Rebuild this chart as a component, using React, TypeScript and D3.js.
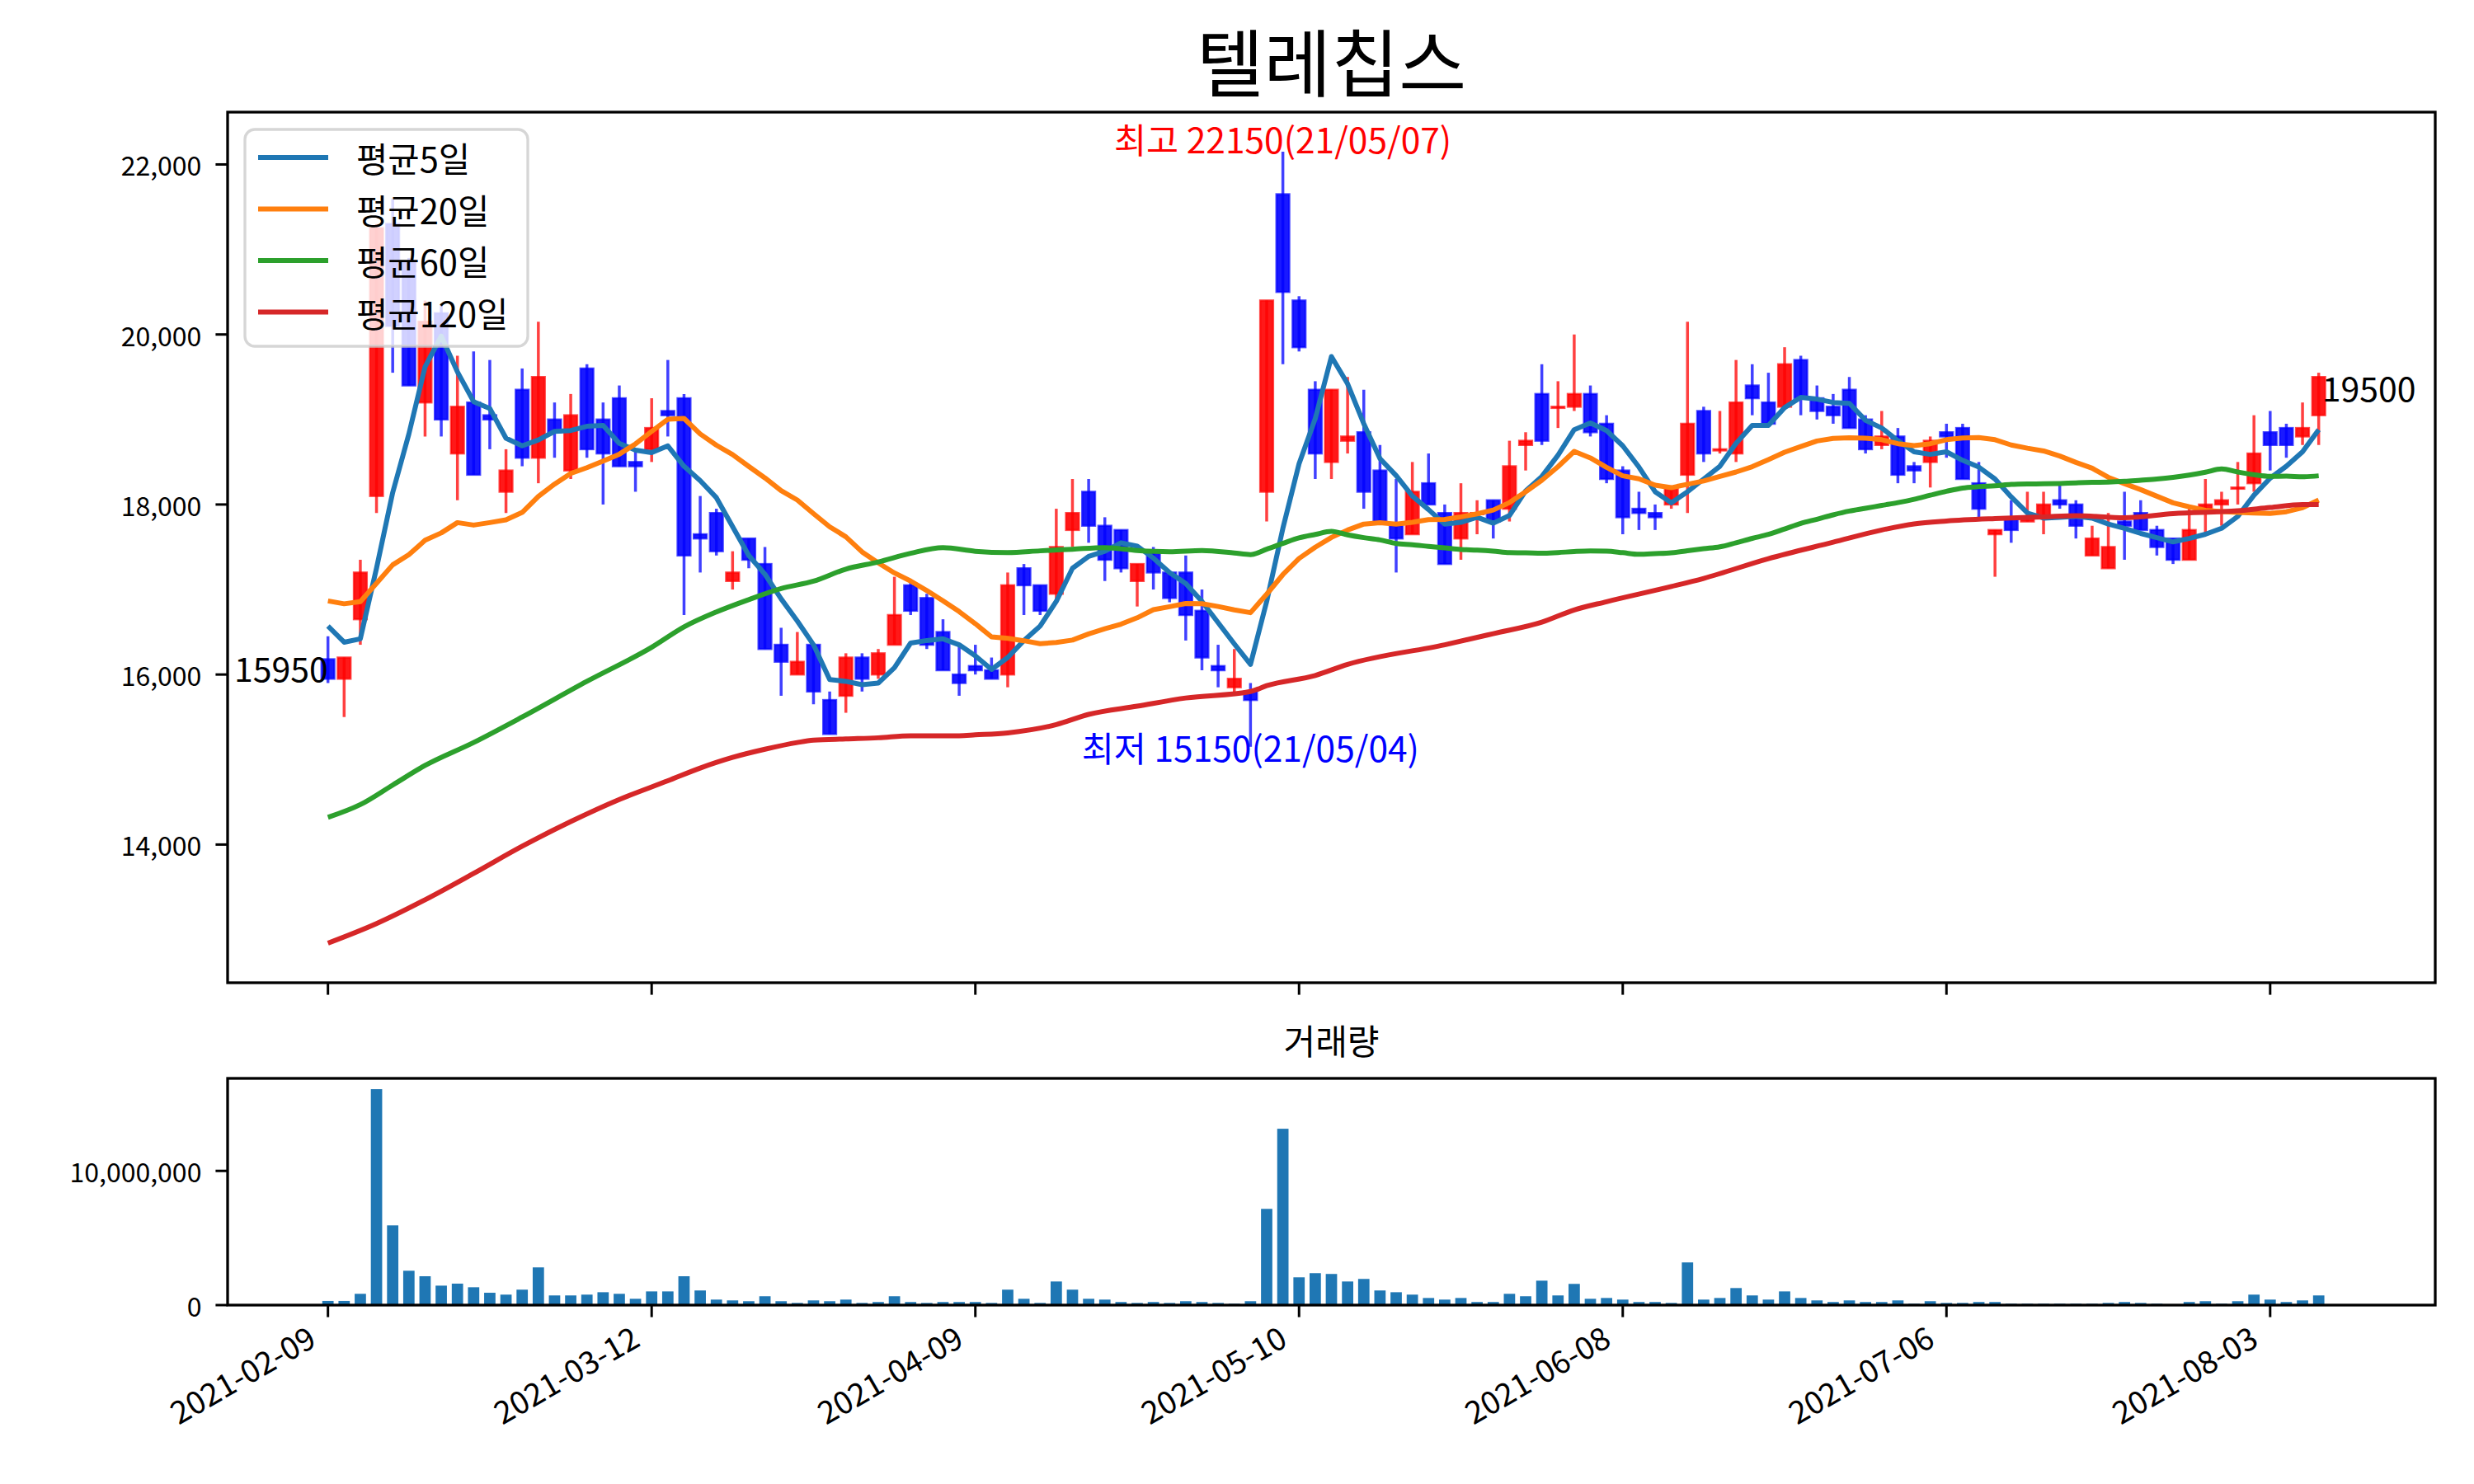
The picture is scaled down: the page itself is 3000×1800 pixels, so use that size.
import React from 'react';
import * as d3 from 'd3';

const opens = [16180,15950,16650,18100,21300,20850,19200,20250,18600,19200,19050,18150,19350,18550,19000,18400,19600,19000,19250,18500,18650,19100,19250,17650,17900,17100,17600,17300,16350,16000,16350,15700,15750,16200,16000,16350,17050,16900,16500,16000,16100,16050,16000,17250,17050,16950,17700,18150,17750,17700,17100,17450,17200,17200,16750,16100,15850,15800,18150,21650,20400,19350,18500,18750,18850,18400,17750,17650,18250,17900,17600,17900,18050,17950,18700,19300,19150,19150,19300,18950,18400,17950,17900,18000,18350,19100,18650,18600,19400,19200,19150,19700,19250,19150,19350,19000,18700,18800,18450,18500,18850,18900,18250,17650,17850,17800,17850,18050,18000,17400,17250,17800,17900,17700,17600,17350,17950,18000,18200,18250,18850,18900,18800,19050];
const highs = [16450,16200,17350,21300,21600,20900,20400,20350,19750,19800,19700,18650,19600,20150,19200,19300,19650,19200,19400,18650,19250,19700,19300,18100,17950,17450,17600,17500,16550,16500,16350,15800,16250,16250,16300,17150,17100,16950,16650,16350,16350,16200,17200,17300,17050,17950,18300,18300,17850,17700,17300,17500,17200,17400,17000,16350,16300,15900,20400,22150,20450,19450,19350,19500,19350,18700,18300,18500,18600,18000,18250,18050,18050,18750,18850,19650,19450,20000,19400,19050,18450,18150,18000,18200,20150,19150,19100,19700,19650,19550,19850,19750,19400,19300,19500,19050,19100,18900,18500,18800,18950,18950,18500,17700,18050,18150,18150,18250,18050,17750,17900,18150,18050,17750,17600,17950,18300,18150,18500,19050,19100,18950,19200,19550];
const lows = [15900,15500,16350,17900,19550,19400,18800,18800,18050,18350,18650,17900,18450,18250,18550,18300,18550,18000,18450,18150,18500,18800,16700,17200,17400,17000,17250,16300,15750,16000,15650,15300,15550,15800,15950,16350,16700,16300,16050,15750,16000,15950,15850,16700,16700,16850,17500,17550,17100,17200,16800,17000,16850,16400,16050,15850,15750,15150,17800,19650,19800,18300,18300,18600,17950,17800,17200,17650,18000,17300,17350,17650,17600,17800,18400,18700,18900,19100,18800,18250,17650,17700,17700,17950,17900,18500,18600,18500,19050,18950,19150,19050,19000,18950,18900,18600,18650,18250,18250,18200,18550,18300,17850,17150,17550,17800,17650,17950,17600,17400,17250,17350,17700,17400,17300,17350,17650,17750,18000,18150,18400,18550,18700,18700];
const closes = [15950,16200,17200,21250,20100,19400,20150,19000,19150,18350,19000,18400,18550,19500,18850,19050,18650,18600,18450,18450,18900,19050,17400,17600,17450,17200,17350,16300,16150,16150,15800,15300,16200,15950,16250,16700,16750,16350,16050,15900,16050,15950,17050,17050,16750,17500,17900,17750,17350,17250,17300,17200,16900,16700,16200,16050,15950,15700,20400,20500,19850,18600,19350,18800,18150,17800,17600,18150,18000,17300,17900,17900,17800,18450,18750,18750,19150,19300,18850,18300,17850,17900,17850,18200,18950,18600,18650,19200,19250,18950,19650,19250,19100,19050,18900,18650,18800,18350,18400,18750,18800,18300,17950,17700,17700,17850,18000,18000,17750,17600,17500,17750,17700,17500,17350,17700,18000,18050,18200,18600,18700,18700,18900,19500];
const volumes = [310000,310000,840000,16090000,5940000,2560000,2150000,1450000,1600000,1330000,920000,780000,1150000,2810000,720000,720000,780000,960000,840000,470000,1020000,1020000,2150000,1090000,410000,350000,290000,660000,290000,160000,350000,290000,410000,160000,230000,660000,230000,160000,230000,230000,230000,160000,1150000,470000,160000,1760000,1150000,470000,410000,230000,160000,230000,160000,290000,230000,160000,100000,290000,7170000,13140000,2070000,2380000,2320000,1760000,1950000,1090000,960000,780000,530000,410000,530000,230000,230000,840000,660000,1820000,720000,1580000,470000,530000,410000,230000,230000,160000,3180000,410000,530000,1270000,720000,410000,1020000,530000,350000,230000,350000,230000,230000,350000,100000,290000,160000,160000,230000,230000,100000,100000,100000,100000,100000,100000,160000,230000,160000,100000,50000,230000,290000,100000,290000,780000,410000,230000,350000,720000];

// moving-average values for days whose window starts before the chart
const ma5Lead = [16570, 16380, 16420, 17250];
const ma20Lead = [16866, 16832, 16857, 17073, 17290, 17411, 17579, 17666, 17787, 17758, 17787, 17820, 17907, 18095, 18240, 18365, 18433, 18510, 18592];
const ma60LeadIdx = [0, 2, 4, 6, 9, 12, 16, 20, 22, 24, 26, 28, 30, 32, 34, 36, 38, 40, 42, 44, 46, 48, 50, 52, 54, 56, 57, 58];
const ma60LeadVal = [14320, 14470, 14700, 14930, 15200, 15500, 15920, 16320, 16560, 16736, 16881, 17011, 17098, 17240, 17324, 17426, 17493, 17450, 17435, 17455, 17474, 17493, 17459, 17445, 17459, 17430, 17411, 17474];
const ma120Idx = [0, 3, 6, 9, 12, 15, 18, 21, 23, 25, 27, 29, 30, 32, 34, 36, 39, 40, 42, 45, 47, 50, 53, 57, 58, 61, 63, 69, 72, 75, 77, 79, 83, 85, 89, 93, 96, 98, 100, 103, 106, 108, 111, 114, 118, 120, 122, 123];
const ma120Val = [12840, 13070, 13350, 13660, 13980, 14270, 14530, 14750, 14900, 15025, 15121, 15200, 15227, 15242, 15256, 15280, 15280, 15290, 15314, 15411, 15531, 15628, 15724, 15800, 15869, 15989, 16119, 16350, 16481, 16616, 16760, 16857, 17035, 17131, 17363, 17556, 17700, 17772, 17806, 17835, 17854, 17869, 17845, 17893, 17927, 17965, 17999, 17999];

const tickIdx = [0, 20, 40, 60, 80, 100, 120];
const tickLabels = ['2021-02-09', '2021-03-12', '2021-04-09', '2021-05-10', '2021-06-08', '2021-07-06', '2021-08-03'];
const priceTicks = [14000, 16000, 18000, 20000, 22000];
const volTicks = [0, 10000000];
const legendLabels = ['평균5일', '평균20일', '평균60일', '평균120일'];
const maColors = ['#1f77b4', '#ff7f0e', '#2ca02c', '#d62728'];
const titleText = '텔레칩스';
const volTitle = '거래량';
const maxDate = '21/05/07';
const minDate = '21/05/04';

const FONT = "'Noto Sans CJK KR', 'Noto Sans', sans-serif";

function rolling(vals: number[], w: number, lead: number[]): [number, number][] {
  return vals.map((_, i) => [i, i < lead.length ? lead[i] : (d3.mean(vals.slice(i - w + 1, i + 1)) as number)] as [number, number]);
}

export default function App() {
  const W = 3000, H = 1800;
  const left = 276, right = 2953;
  const mainTop = 136, mainBottom = 1192;
  const volTop = 1308, volBottom = 1583;
  const n = closes.length;
  const span = n;
  const x = d3.scaleLinear().domain([-0.05 * span, span * 1.05]).range([left, right]);

  const ma5 = rolling(closes, 5, ma5Lead);
  const ma20 = rolling(closes, 20, ma20Lead);
  const ma60: [number, number][] = ma60LeadIdx.map((d, k) => [d, ma60LeadVal[k]] as [number, number]);
  for (let i = 59; i < n; i++) ma60.push([i, d3.mean(closes.slice(i - 59, i + 1)) as number]);
  const ma120: [number, number][] = ma120Idx.map((d, k) => [d, ma120Val[k]] as [number, number]);

  const hi = d3.max(highs) as number;
  const lo = Math.min(d3.min(lows) as number, d3.min(ma120Val) as number);
  const pad = 0.05 * (hi - lo);
  const y = d3.scaleLinear().domain([lo - pad, hi + pad]).range([mainBottom, mainTop]);
  const vmax = d3.max(volumes) as number;
  const yv = d3.scaleLinear().domain([0, vmax * 1.05]).range([volBottom, volTop]);

  const smooth = d3.line<[number, number]>().x(d => x(d[0])).y(d => y(d[1])).curve(d3.curveMonotoneX);
  const straight = d3.line<[number, number]>().x(d => x(d[0])).y(d => y(d[1]));
  const step = x(1) - x(0);
  const bodyW = step * 0.8;
  const volW = step * 0.7;

  const iMax = highs.indexOf(hi);
  const loMin = d3.min(lows) as number;
  const iMin = lows.indexOf(loMin);

  const tickLen = 14.6;
  const tickW = 3;
  const spineW = 3.3;

  return (
    <svg width={W} height={H} style={{ position: 'absolute', left: 0, top: 0, background: '#fff' }} fontFamily={FONT}>
      <rect x={0} y={0} width={W} height={H} fill="#fff" />
      {/* title */}
      <text x={(left + right) / 2} y={110} textAnchor="middle" fontSize={89} fill="#000">{titleText}</text>

      {/* candles */}
      <g>
        {closes.map((c, i) => {
          const up = c >= opens[i];
          const col = up ? '#ff0000' : '#0000ff';
          const top = y(Math.max(c, opens[i]));
          const bot = y(Math.min(c, opens[i]));
          return (
            <g key={i}>
              <line x1={x(i)} x2={x(i)} y1={y(highs[i])} y2={y(lows[i])} stroke={col} strokeOpacity={0.75} strokeWidth={3.5} />
              <rect x={x(i) - bodyW / 2} y={top} width={bodyW} height={Math.max(bot - top, 1.5)} fill={col} fillOpacity={0.9} stroke={col} strokeOpacity={0.7} strokeWidth={2.5} />
            </g>
          );
        })}
      </g>

      {/* moving averages */}
      {[ma5, ma20].map((d, k) => (
        <path key={k} d={straight(d) as string} fill="none" stroke={maColors[k]} strokeWidth={6} strokeLinejoin="round" />
      ))}
      {[ma60, ma120].map((d, k) => (
        <path key={k + 2} d={smooth(d) as string} fill="none" stroke={maColors[k + 2]} strokeWidth={6} strokeLinejoin="round" />
      ))}

      {/* annotations */}
      <text x={x(iMax)} y={y(hi) + 2} textAnchor="middle" fontSize={42.5} fill="#ff0000">{`최고 ${hi}(${maxDate})`}</text>
      <text x={x(iMin)} y={y(loMin) + 18} textAnchor="middle" fontSize={42.5} fill="#0000ff">{`최저 ${loMin}(${minDate})`}</text>
      <text x={x(0)} y={y(closes[0]) + 4} textAnchor="end" fontSize={41} fill="#000">{closes[0]}</text>
      <text x={x(n - 1) + 4} y={y(closes[n - 1]) + 30} textAnchor="start" fontSize={41} fill="#000">{closes[n - 1]}</text>

      {/* legend */}
      <g>
        <rect x={297} y={157} width={343} height={263} rx={12} fill="#fff" fillOpacity={0.8} stroke="#cccccc" strokeOpacity={0.8} strokeWidth={3.3} />
        {legendLabels.map((l, k) => (
          <g key={k}>
            <line x1={313} x2={398} y1={191 + k * 62.5} y2={191 + k * 62.5} stroke={maColors[k]} strokeWidth={6} />
            <text x={432} y={191 + k * 62.5} dominantBaseline="central" fontSize={41.7} fill="#000">{l}</text>
          </g>
        ))}
      </g>

      {/* main axes frame */}
      <rect x={left} y={mainTop} width={right - left} height={mainBottom - mainTop} fill="none" stroke="#000" strokeWidth={spineW} />
      {priceTicks.map(t => (
        <g key={t}>
          <line x1={left - tickLen} x2={left} y1={y(t)} y2={y(t)} stroke="#000" strokeWidth={tickW} />
          <text x={left - tickLen - 17} y={y(t)} textAnchor="end" dominantBaseline="central" fontSize={32} fill="#000">{d3.format(',')(t)}</text>
        </g>
      ))}
      {tickIdx.map(t => (
        <line key={t} x1={x(t)} x2={x(t)} y1={mainBottom} y2={mainBottom + tickLen} stroke="#000" strokeWidth={tickW} />
      ))}

      {/* volume */}
      <text x={(left + right) / 2} y={1279} textAnchor="middle" fontSize={42} fill="#000">{volTitle}</text>
      {volumes.map((v, i) => (
        <rect key={i} x={x(i) - volW / 2} y={yv(v)} width={volW} height={volBottom - yv(v)} fill="#1f77b4" />
      ))}
      <rect x={left} y={volTop} width={right - left} height={volBottom - volTop} fill="none" stroke="#000" strokeWidth={spineW} />
      {volTicks.map(t => (
        <g key={t}>
          <line x1={left - tickLen} x2={left} y1={yv(t)} y2={yv(t)} stroke="#000" strokeWidth={tickW} />
          <text x={left - tickLen - 17} y={yv(t)} textAnchor="end" dominantBaseline="central" fontSize={32} fill="#000">{d3.format(',')(t)}</text>
        </g>
      ))}
      {tickIdx.map((t, k) => (
        <g key={t}>
          <line x1={x(t)} x2={x(t)} y1={volBottom} y2={volBottom + tickLen} stroke="#000" strokeWidth={tickW} />
          <text transform={`translate(${x(t) - 12},${volBottom + 2 * tickLen + 19}) rotate(-30)`} textAnchor="end" fontSize={38} fill="#000">{tickLabels[k]}</text>
        </g>
      ))}
    </svg>
  );
}
